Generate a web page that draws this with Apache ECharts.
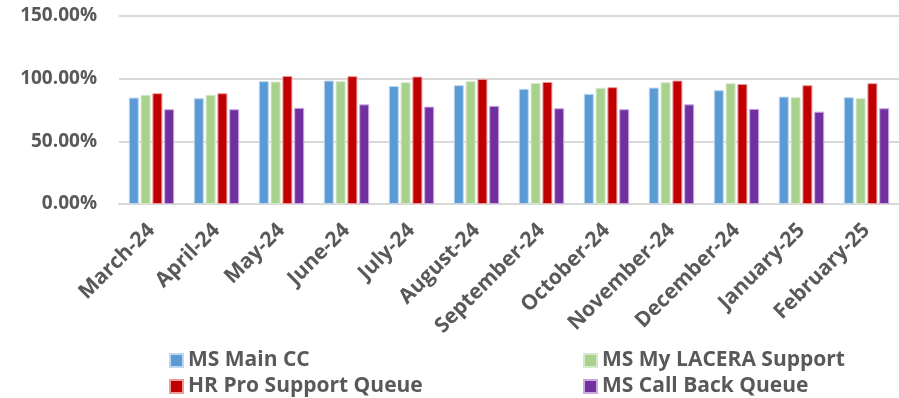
<!DOCTYPE html>
<html>
<head>
<meta charset="utf-8">
<script src="https://cdn.jsdelivr.net/npm/echarts@6/dist/echarts.min.js"></script>
<style>
  html, body { margin: 0; padding: 0; background: #ffffff; }
  #chart { width: 899px; height: 398px; }
</style>
</head>
<body>
<div id="chart"></div>
<script>
// Monthly service level per queue, March 2024 – February 2025 (percent)
const months = ['March-24', 'April-24', 'May-24', 'June-24', 'July-24', 'August-24',
  'September-24', 'October-24', 'November-24', 'December-24', 'January-25', 'February-25'];
const msMainCC = [84.9, 84.4, 98.0, 98.5, 94.2, 94.8, 91.9, 87.9, 92.9, 90.8, 85.7, 85.2];
const msMyLaceraSupport = [87.1, 87.1, 97.7, 98.0, 97.2, 98.0, 96.6, 92.7, 97.2, 96.4, 85.2, 84.4];
const hrProSupportQueue = [88.4, 88.4, 102.2, 102.0, 101.7, 99.8, 97.4, 93.2, 98.5, 95.8, 94.8, 96.4];
const msCallBackQueue = [75.6, 75.6, 76.7, 79.5, 77.7, 78.3, 76.4, 75.6, 79.5, 75.9, 73.7, 76.4];
const yTicks = [0, 50, 100, 150];

const seriesNames = ['MS Main CC', 'MS My LACERA Support', 'HR Pro Support Queue', 'MS Call Back Queue'];
const seriesData = [msMainCC, msMyLaceraSupport, hrProSupportQueue, msCallBackQueue];
const fills = ['#5B9BD5', '#A9D18E', '#C00000', '#7030A0'];
const edges = ['#BDD7EE', '#D5E8C8', '#EC9A9A', '#C9A9E0'];

const textColor = '#595959';
const font = '"Open Sans", "Liberation Sans", sans-serif';

const chart = echarts.init(document.getElementById('chart'), null, { renderer: 'canvas' });

const legendText = {
  color: textColor, fontFamily: font, fontWeight: 'bold', fontSize: 21, lineHeight: 21
};

// two-column legend: each column is its own vertical legend
const legendColumn = (names, left) => ({
  data: names, orient: 'vertical', left: left, top: 350, padding: 0,
  itemWidth: 13, itemHeight: 13, itemGap: 5, icon: 'rect', textStyle: legendText
});

chart.setOption({
  animation: false,
  backgroundColor: '#ffffff',
  grid: { left: 119, right: -7, top: 16, bottom: 194, containLabel: false },
  legend: [
    legendColumn([seriesNames[0], seriesNames[2]], 169),
    legendColumn([seriesNames[1], seriesNames[3]], 583)
  ],
  xAxis: {
    type: 'category',
    data: months,
    axisLine: { lineStyle: { color: '#D9D9D9', width: 2 } },
    axisTick: { show: false },
    axisLabel: {
      rotate: 45, margin: 23, interval: 0,
      color: textColor, fontFamily: font, fontWeight: 'bold', fontSize: 21
    }
  },
  yAxis: {
    type: 'value',
    min: yTicks[0], max: yTicks[yTicks.length - 1], interval: yTicks[1] - yTicks[0],
    axisLine: { show: false },
    axisTick: { show: false },
    splitLine: { lineStyle: { color: '#D9D9D9', width: 2 } },
    axisLabel: {
      margin: 22,
      color: textColor, fontFamily: font, fontWeight: 'bold', fontSize: 19,
      formatter: v => v.toFixed(2) + '%'
    }
  },
  series: seriesNames.map((name, i) => ({
    name: name,
    type: 'bar',
    data: seriesData[i],
    barWidth: 10,
    barGap: '18%',
    itemStyle: { color: fills[i], borderColor: edges[i], borderWidth: 1 }
  }))
});
</script>
</body>
</html>
